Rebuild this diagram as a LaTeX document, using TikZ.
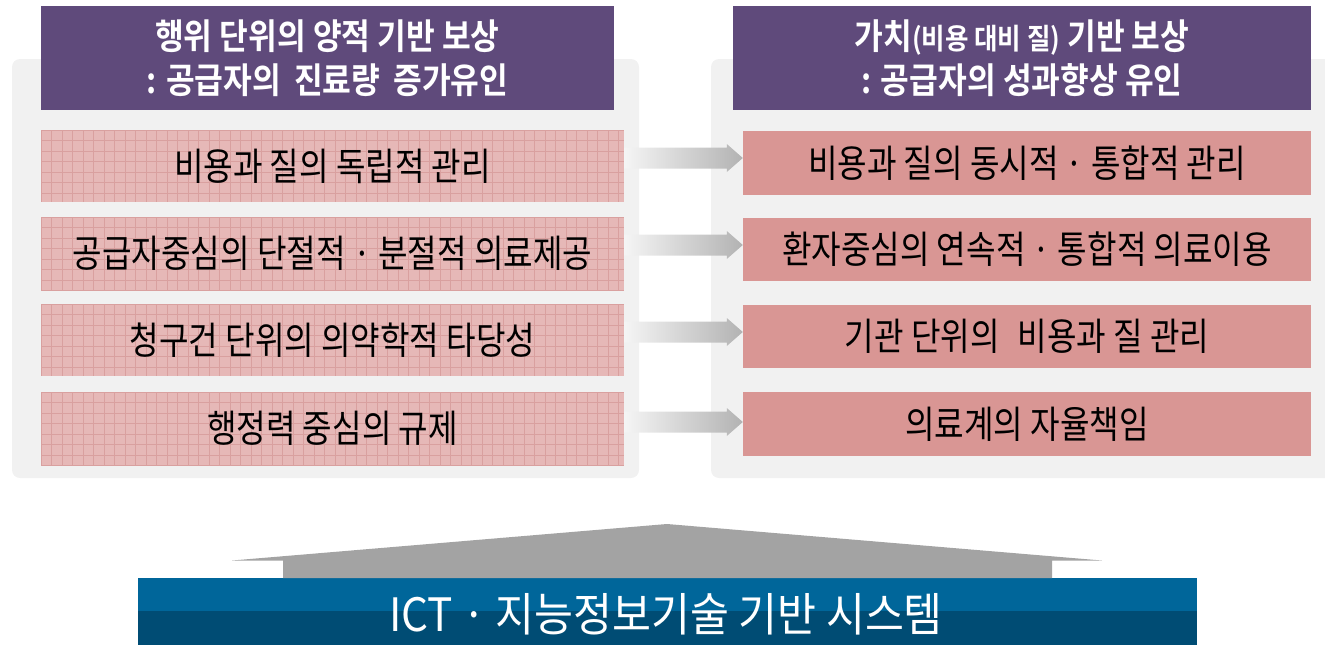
\documentclass[tikz,border=0pt]{standalone}
\usepackage{fontspec}
\newfontfamily\kr[FakeStretch=0.845]{Noto Sans CJK KR}
\newfontfamily\krb[FakeStretch=0.88]{Noto Sans CJK KR Bold}
\newfontfamily\krbar[FakeStretch=0.92]{Noto Sans CJK KR}
\usetikzlibrary{calc}
\definecolor{panelgray}{HTML}{F1F1F1}
\definecolor{hdrpurple}{HTML}{5F4A7B}
\definecolor{boxpink}{HTML}{D99694}
\definecolor{lightpink}{HTML}{E6B8B7}
\definecolor{gridpink}{HTML}{D9A09F}
\definecolor{bartop}{HTML}{00669A}
\definecolor{barbot}{HTML}{004C74}
\definecolor{roofgray}{HTML}{A3A3A3}
\tikzset{
  panel/.style={fill=panelgray, rounded corners=8pt},
  hdr/.style={fill=hdrpurple, text=white, align=center, inner sep=0pt, font=\krb\fontsize{35.5}{44}\selectfont},
  leftbox/.style={inner sep=0pt, font=\kr\fontsize{38}{42}\selectfont, text=black},
  rightbox/.style={fill=boxpink, inner sep=0pt, font=\kr\fontsize{38}{42}\selectfont, text=black},
  fatarrow/.style={left color=gray!8, right color=gray!60, draw=none},
}
\begin{document}
\begin{tikzpicture}[x=1pt,y=-1pt]
\useasboundingbox (0,0) rectangle (1325,645);
% panels
\fill[panel] (12,59) rectangle (639,478);
\fill[panel] (711,59) rectangle (1340,478);
% headers
\node[hdr, minimum width=573pt, minimum height=104pt] (HL) at (327.5,58) {행위 단위의 양적 기반 보상\\: 공급자의\, 진료량\, 증가유인};
\node[hdr, minimum width=578pt, minimum height=104pt] (HR) at (1022,58) {가치{\fontsize{29}{30}\selectfont(비용 대비 질)} 기반 보상\\: 공급자의 성과향상 유인};
% left boxes with grid texture
\foreach \i/\ya/\yb in {1/130/202,2/217/290,3/304/376,4/392/465}{
  \fill[lightpink] (41,\ya) rectangle (624,\yb);
  \begin{scope}
    \clip (41,\ya) rectangle (624,\yb);
    \foreach \gx in {41,51.5,...,630}{\draw[gridpink, line width=0.9pt] (\gx,\ya) -- (\gx,\yb);}
    \foreach \gy in {0,10.5,...,80}{\draw[gridpink, line width=0.9pt] (41,\ya+\gy) -- (624,\ya+\gy);}
  \end{scope}
}
\node[leftbox, minimum width=583pt, minimum height=72pt] (L1) at (332.5,166) {비용과 질의 독립적 관리};
\node[leftbox, minimum width=583pt, minimum height=73pt] (L2) at (332.5,253.5) {공급자중심의 단절적 · 분절적 의료제공};
\node[leftbox, minimum width=583pt, minimum height=72pt] (L3) at (332.5,340) {청구건 단위의 의약학적 타당성};
\node[leftbox, minimum width=583pt, minimum height=73pt] (L4) at (332.5,428.5) {행정력 중심의 규제};
% right boxes
\node[rightbox, minimum width=568pt, minimum height=64pt] (R1) at (1027,163) {비용과 질의 동시적 · 통합적 관리};
\node[rightbox, minimum width=568pt, minimum height=63pt] (R2) at (1027,249.5) {환자중심의 연속적 · 통합적 의료이용};
\node[rightbox, minimum width=568pt, minimum height=63pt] (R3) at (1027,336.5) {기관 단위의\; 비용과 질 관리};
\node[rightbox, minimum width=568pt, minimum height=64pt] (R4) at (1027,424) {의료계의 자율책임};
% arrows
\foreach \i/\y in {1/158,2/245,3/332,4/422}{
  \coordinate (s\i) at (L\i.east |- 0,\y);
  \coordinate (e\i) at (R\i.west |- 0,\y);
  \path[fatarrow] ($(s\i)+(0,-10.5)$) -- ($(e\i)+(-16,-10.5)$) -- ($(e\i)+(-16,-14)$) -- (e\i)
     -- ($(e\i)+(-16,14)$) -- ($(e\i)+(-16,10.5)$) -- ($(s\i)+(0,10.5)$) -- cycle;
}
% bottom bar
\fill[bartop] (138,578) rectangle (1197,611);
\fill[barbot] (138,611) rectangle (1197,645);
\node[text=white, font=\krbar\fontsize{46}{50}\selectfont, inner sep=0pt] (B) at (666,614) {ICT · 지능정보기술 기반 시스템};
% roof arrow
\coordinate (apex) at (667,524);
\fill[roofgray] (283,578) -- (283,560.5) -- (232,560.5) -- (apex) -- (1102,560.5) -- (1052,560.5) -- (1052,578) -- cycle;
\end{tikzpicture}
\end{document}
